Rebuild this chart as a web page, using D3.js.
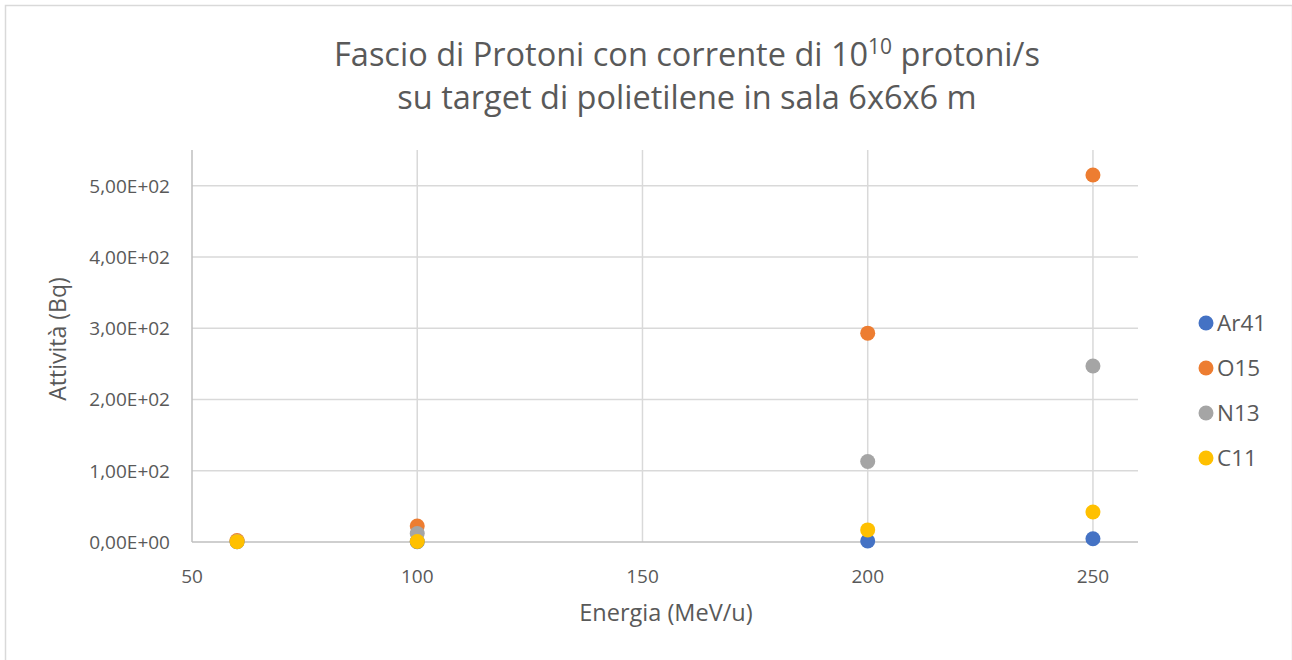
<!DOCTYPE html>
<html>
<head>
<meta charset="utf-8">
<script src="https://cdn.jsdelivr.net/npm/d3@7"></script>
<style>
  body { margin: 0; background: #fff; }
  text { font-family: "Open Sans", "Noto Sans", sans-serif; fill: #595959; }
</style>
</head>
<body>
<div id="chart"></div>
<script>
// energie (MeV/u) e attività per isotopo
const energies = [60, 100, 200, 250];
const seriesNames = ["Ar41", "O15", "N13", "C11"];
const ar41 = [0.3, 0.5, 1.5, 4.5];
const o15 = [2, 22.5, 293, 515];
const n13 = [0.8, 12, 113, 247];
const c11 = [0.5, 0.8, 17, 42];
const seriesColors = ["#4472C4", "#ED7D31", "#A5A5A5", "#FFC000"];
const xTicks = [50, 100, 150, 200, 250];
const yTicks = [0, 100, 200, 300, 400, 500];

const W = 1292, H = 660;
const margin = { left: 192, right: 1292 - 1138, top: 150, bottom: 660 - 542 };

const svg = d3.select("#chart").append("svg")
  .attr("width", W).attr("height", H);

// cornice del grafico
svg.append("rect")
  .attr("x", 5.5).attr("y", 5.5)
  .attr("width", W - 5).attr("height", H)
  .attr("fill", "#fff").attr("stroke", "#d9d9d9").attr("stroke-width", 1.5);

const x = d3.scaleLinear().domain([50, 260]).range([margin.left, W - margin.right]);
const y = d3.scaleLinear().domain([0, 550]).range([H - margin.bottom, margin.top]);

// griglia
svg.append("g").selectAll("line").data(yTicks.filter(d => d > 0)).enter()
  .append("line")
  .attr("x1", x(50)).attr("x2", x(260))
  .attr("y1", d => y(d)).attr("y2", d => y(d))
  .attr("stroke", "#d9d9d9").attr("stroke-width", 1.5);

svg.append("g").selectAll("line").data(xTicks.filter(d => d > 50)).enter()
  .append("line")
  .attr("x1", d => x(d)).attr("x2", d => x(d))
  .attr("y1", y(0)).attr("y2", y(550))
  .attr("stroke", "#d9d9d9").attr("stroke-width", 1.5);

// assi
svg.append("line")
  .attr("x1", x(50)).attr("x2", x(50)).attr("y1", y(0)).attr("y2", y(550))
  .attr("stroke", "#bfbfbf").attr("stroke-width", 1.5);
svg.append("line")
  .attr("x1", x(50)).attr("x2", x(260)).attr("y1", y(0)).attr("y2", y(0))
  .attr("stroke", "#bfbfbf").attr("stroke-width", 1.5);

const fmtY = d => d3.format(".2e")(d).replace(".", ",").replace(/e([+-])(\d)$/, "E$10$2").replace("e", "E");

svg.append("g").selectAll("text").data(yTicks).enter()
  .append("text")
  .attr("x", x(50) - 22).attr("y", d => y(d))
  .attr("dy", "0.37em").attr("text-anchor", "end")
  .attr("font-size", 19)
  .text(fmtY);

svg.append("g").selectAll("text").data(xTicks).enter()
  .append("text")
  .attr("x", d => x(d)).attr("y", y(0) + 41)
  .attr("text-anchor", "middle")
  .attr("font-size", 19)
  .text(d => d);

// titoli
const title = svg.append("text")
  .attr("x", 687).attr("y", 66)
  .attr("text-anchor", "middle").attr("font-size", 32.5);
title.append("tspan").text("Fascio di Protoni con corrente di 10");
title.append("tspan").attr("font-size", 21).attr("dy", -12).text("10");
title.append("tspan").attr("dy", 12).text(" protoni/s");

svg.append("text")
  .attr("x", 687).attr("y", 109)
  .attr("text-anchor", "middle").attr("font-size", 32.5)
  .text("su target di polietilene in sala 6x6x6 m");

svg.append("text")
  .attr("x", 666).attr("y", 621)
  .attr("text-anchor", "middle").attr("font-size", 23.5)
  .text("Energia (MeV/u)");

svg.append("text")
  .attr("transform", "translate(66,339) rotate(-90)")
  .attr("text-anchor", "middle").attr("font-size", 23)
  .text("Attività (Bq)");

// punti
const allSeries = [ar41, o15, n13, c11];
allSeries.forEach((vals, i) => {
  svg.append("g").selectAll("circle")
    .data(vals.map((v, j) => ({ e: energies[j], v })))
    .enter().append("circle")
    .attr("cx", d => x(d.e)).attr("cy", d => y(d.v))
    .attr("r", 7.5)
    .attr("fill", seriesColors[i]);
});

// legenda
const leg = svg.append("g").selectAll("g").data(seriesNames).enter()
  .append("g")
  .attr("transform", (d, i) => `translate(1206,${323 + i * 45})`);
leg.append("circle").attr("r", 7.5).attr("fill", (d, i) => seriesColors[i]);
leg.append("text").attr("x", 11).attr("dy", "0.36em").attr("font-size", 22.5).text(d => d);
</script>
</body>
</html>
